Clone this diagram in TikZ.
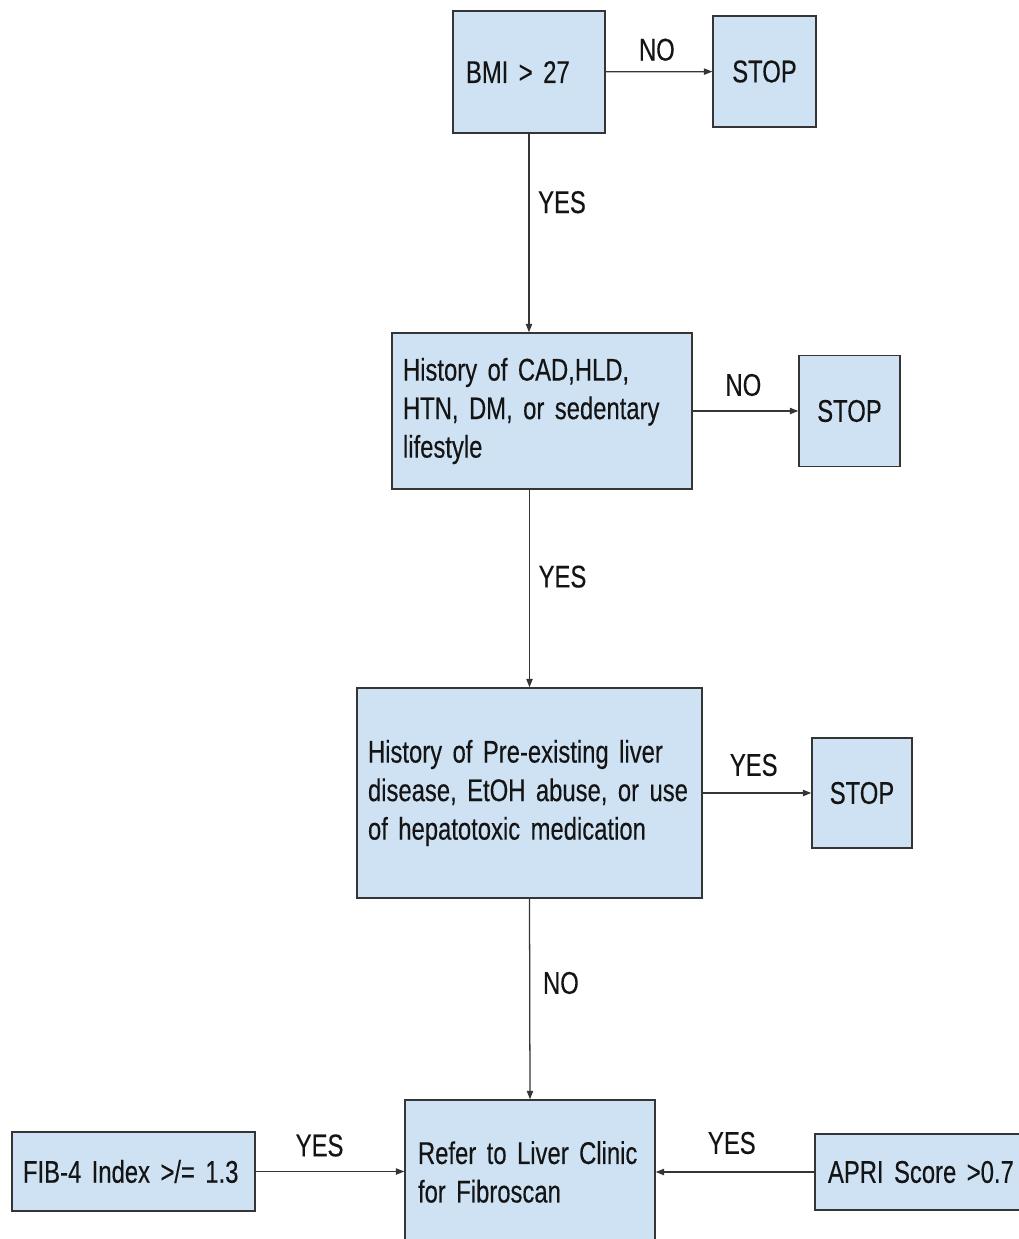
\documentclass[tikz,border=0pt]{standalone}
\usepackage{fontspec}
\setmainfont{Liberation Sans}[FakeStretch=0.76,FakeBold=0.3]
\usetikzlibrary{arrows.meta}
\definecolor{boxblue}{HTML}{CFE2F3}
\definecolor{edgegray}{HTML}{353535}
\newcommand\px{0.025cm}
\newcommand\chartfont{\fontsize{22.3}{27.4}\selectfont}

\begin{document}
\begin{tikzpicture}[x=0.025cm,y=-0.025cm,
    txt/.style={font=\chartfont,text=black!92},
    box/.style n args={3}{txt,draw=edgegray,line width=1pt,fill=boxblue,inner sep=0pt,
      minimum width=#1*\px,minimum height=#2*\px,text width=#3*\px,align=left},
    stopbox/.style={txt,draw=edgegray,line width=1pt,fill=boxblue,inner sep=0pt,
      minimum width=101*\px,minimum height=111*\px,align=center},
    lbl/.style={txt,inner sep=0pt},
    flow/.style={draw=edgegray,line width=0.9pt,-{Triangle[length=6pt,width=4.5pt]}}]
      \useasboundingbox (0,0) rectangle (1019,1239);
      \node[box={152}{122}{126}] (bmi) at (529,72) {BMI > 27};
      \node[stopbox,minimum width=103*\px] (stopA) at (764.5,71.5) {STOP};
      \node[box={300}{156}{278}] (hist) at (542,411) {History of CAD,HLD,\\HTN, DM, or sedentary\\lifestyle};
      \node[stopbox] (stopB) at (849.5,411) {STOP};
      \node[box={345}{210}{323}] (pre) at (529.5,793) {History of Pre-existing liver\\disease, EtOH abuse, or use\\of hepatotoxic medication};
      \node[stopbox,minimum width=100*\px,minimum height=110*\px] (stopC) at (862,793) {STOP};
      \node[box={250}{144}{224}] (refer) at (530,1172) {Refer to Liver Clinic\\for Fibroscan};
      \node[box={243}{79}{221}] (fib) at (133.5,1171.5) {FIB-4 Index >/= 1.3};
      \node[box={220}{76}{194}] (apri) at (925,1172) {APRI Score >0.7};
      \draw[flow] (bmi) -- node[lbl,pos=.48,yshift=0.55cm] (noA) {NO} (stopA);
      \draw[flow] (bmi.south) -- node[lbl,pos=.345,xshift=0.825cm] (yesA) {YES} (bmi.south |- hist.north);
      \draw[flow] (hist) -- node[lbl,pos=.48,yshift=0.65cm] (noB) {NO} (stopB);
      \draw[flow] (pre.north |- hist.south) -- node[lbl,pos=.44,xshift=0.825cm] (yesB) {YES} (pre.north);
      \draw[flow] (pre) -- node[lbl,pos=.47,yshift=0.7cm] (yesC) {YES} (stopC);
      \draw[flow] (pre.south) -- node[lbl,pos=.42,xshift=0.78cm] (noC) {NO} (refer.north);
      \draw[flow] (fib.east) -- node[lbl,pos=.43,yshift=0.65cm] (yesF) {YES} (fib.east -| refer.west);
      \draw[flow] (apri.west) -- node[lbl,pos=.52,yshift=0.725cm] (yesP) {YES} (apri.west -| refer.east);
\end{tikzpicture}
\end{document}
